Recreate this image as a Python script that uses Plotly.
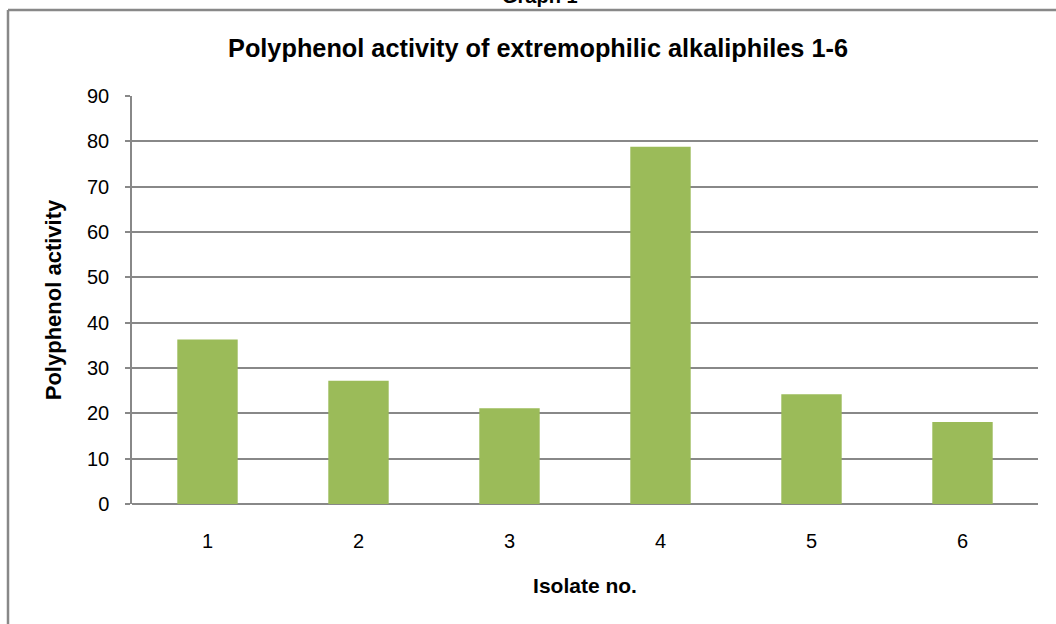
import plotly.graph_objects as go

isolates = ["1", "2", "3", "4", "5", "6"]
activity = [36.3, 27.2, 21.1, 78.8, 24.2, 18.1]
y_ticks = [0, 10, 20, 30, 40, 50, 60, 70, 80, 90]

W, H = 1056, 624
L, R, T, B = 132, 18, 96, 120
pw, ph = W - L - R, H - T - B

def px(x):
    return (x - L) / pw

def py(y):
    return (H - B - y) / ph

fig = go.Figure()
fig.add_trace(go.Bar(
    x=isolates, y=activity,
    marker=dict(color="#9BBB59", line=dict(width=0)),
    width=0.4,
))

font = "Liberation Sans, Arial, sans-serif"
fig.update_layout(
    width=W, height=H,
    margin=dict(l=L, r=R, t=T, b=B),
    paper_bgcolor="white", plot_bgcolor="white",
    showlegend=False,
    font=dict(family=font, size=20, color="black"),
    title=dict(text="<b>Polyphenol activity of extremophilic alkaliphiles 1-6</b>",
               x=538 / W, xref="container", xanchor="center",
               y=1 - 48 / H, yref="container", yanchor="middle",
               font=dict(size=25.3, family=font, color="black")),
    xaxis=dict(
        showgrid=False, showline=False, ticks="", zeroline=False,
        tickfont=dict(size=20), ticklabelstandoff=23,
        title=dict(text="<b>Isolate no.</b>", font=dict(size=21), standoff=27),
    ),
    yaxis=dict(
        range=[0, 90], tickvals=y_ticks,
        showgrid=True, gridcolor="#888888", gridwidth=1.5,
        showline=True, linecolor="#888888", linewidth=1.5,
        ticks="outside", ticklen=5, tickcolor="#888888", tickwidth=1.5,
        zeroline=True, zerolinecolor="#888888", zerolinewidth=1.5,
        tickfont=dict(size=20), ticklabelstandoff=12,
        title=dict(text="<b>Polyphenol activity</b>", font=dict(size=22), standoff=19),
    ),
    bargap=0.6,
)

# outer chart border (top and left visible)
fig.add_shape(type="line", xref="paper", yref="paper",
              x0=px(8), x1=px(1060), y0=py(10), y1=py(10),
              line=dict(color="#888888", width=2.5))
fig.add_shape(type="line", xref="paper", yref="paper",
              x0=px(8), x1=px(8), y0=py(10), y1=py(630),
              line=dict(color="#888888", width=2.5))

fig.add_annotation(text="<b>Graph 1</b>", xref="paper", yref="paper",
                   x=px(540), y=py(8.5), xanchor="center", yanchor="bottom",
                   showarrow=False, font=dict(size=20, family=font, color="black"))

fig.write_html("out.html",
               config={"displayModeBar": False},
               post_script="document.body.style.margin='0';document.body.style.overflow='hidden';")
